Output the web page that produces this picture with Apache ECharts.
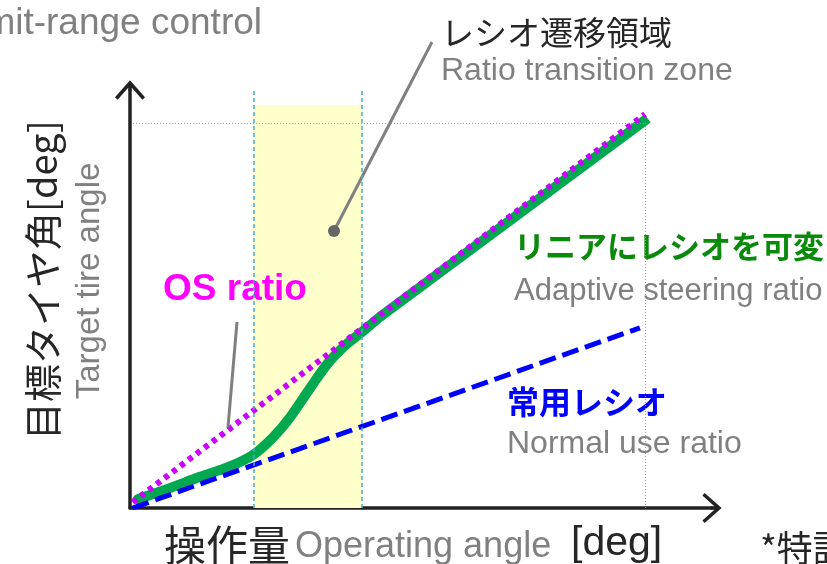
<!DOCTYPE html>
<html>
<head>
<meta charset="utf-8">
<script src="https://cdn.jsdelivr.net/npm/echarts@6/dist/echarts.min.js"></script>
<style>
  html, body { margin: 0; padding: 0; background: #fff; }
  #main { width: 827px; height: 564px; }
</style>
</head>
<body>
<div id="main"></div>
<script>
// 値はすべて図から目測
const zoneRange = [24, 45];          // レシオ遷移領域 (操作量)
const zoneTop = 104.7;
const zoneLineTop = 108.5;
const maxPoint = [100, 100];         // 最大操作量・最大タイヤ角

// 常用レシオ (直線)
const normalRatio = [[0.5, 0], [99, 46.8]];
// OS ratio (直線)
const osRatio = [[0.5, 1.5], [100, 102.3]];
// リニアにレシオを可変: 曲線部分と直線部分
const adaptiveCurve = [
  [1.5, 2.3], [7, 4.8], [13.6, 8.1], [19.4, 10.8], [23.9, 13.8],
  [27.8, 18.4], [31.1, 23.6], [35, 31.2], [38.3, 37.4], [41.4, 41.8],
  [45, 45.7], [48.5, 49.6]
];
const adaptiveLinear = [[48.5, 49.6], [100.5, 101.2]];

const FONT = "'Liberation Sans', 'Noto Sans CJK JP', sans-serif";
const JP = "'Noto Sans CJK JP', 'Liberation Sans', sans-serif";
const GRAY = '#808080';
const DARK = '#262626';
const GREEN = '#00a84f';

// 開いた矢印 (上向き) + 中心までの軸
const ARROW = 'path://M15,0 L30,17 L27.4,19.3 L15,5.3 L2.6,19.3 L0,17 Z M13.25,3 L16.75,3 L16.75,10.5 L13.25,10.5 Z';

const chart = echarts.init(document.getElementById('main'));

function axisCommon(max) {
  return {
    type: 'value',
    min: 0,
    max: max,
    axisLabel: { show: false },
    axisTick: { show: false },
    splitLine: { show: false },
    axisLine: {
      show: true,
      symbol: ['none', ARROW],
      symbolSize: [30, 19.3],
      lineStyle: { color: '#222', width: 3.5 }
    }
  };
}

function text(x, y, str, size, color, opts) {
  return Object.assign({
    type: 'text',
    x: x,
    y: y,
    z: 5,
    style: Object.assign({
      text: str,
      font: (opts && opts.weight ? opts.weight + ' ' : '') + size + 'px ' + (opts && opts.family ? opts.family : FONT),
      fill: color,
      align: 'left',
      verticalAlign: 'middle'
    }, opts && opts.style)
  }, opts && opts.el);
}

const zoneLine = { color: '#4bacc6', width: 1.5, type: [4, 3] };
const guideLine = { color: '#999', width: 1, type: [1, 2] };

const option = {
  animation: false,
  backgroundColor: '#fff',
  grid: { left: 130, top: 90, width: 582, height: 418 },
  xAxis: axisCommon(113),
  yAxis: axisCommon(108.57),
  series: [
    {
      type: 'line',
      data: [],
      clip: false,
      silent: true,
      markArea: {
        silent: true,
        itemStyle: { color: '#ffffcc' },
        data: [[{ coord: [zoneRange[0], 0] }, { coord: [zoneRange[1], zoneTop] }]]
      },
      markLine: {
        silent: true,
        symbol: 'none',
        label: { show: false },
        data: [
          [{ coord: [zoneRange[0], 0], lineStyle: zoneLine }, { coord: [zoneRange[0], zoneLineTop] }],
          [{ coord: [zoneRange[1], 0], lineStyle: zoneLine }, { coord: [zoneRange[1], zoneLineTop] }],
          [{ coord: [0.6, maxPoint[1]], lineStyle: guideLine }, { coord: [maxPoint[0], maxPoint[1]] }],
          [{ coord: [maxPoint[0], maxPoint[1]], lineStyle: guideLine }, { coord: [maxPoint[0], 0] }]
        ]
      }
    },
    {
      name: 'リニアにレシオを可変',
      type: 'line',
      data: adaptiveCurve,
      smooth: 0.3,
      symbol: 'none',
      clip: false,
      lineStyle: { color: GREEN, width: 10, cap: 'round' }
    },
    {
      name: 'リニアにレシオを可変',
      type: 'line',
      data: adaptiveLinear,
      symbol: 'none',
      clip: false,
      lineStyle: { color: GREEN, width: 10, cap: 'butt' }
    },
    {
      name: 'OS ratio',
      type: 'line',
      data: osRatio,
      symbol: 'none',
      clip: false,
      lineStyle: { color: '#cc00ff', width: 6, type: [5, 5], cap: 'butt' }
    },
    {
      name: '常用レシオ',
      type: 'line',
      data: normalRatio,
      symbol: 'none',
      clip: false,
      lineStyle: { color: '#0000ff', width: 5, type: [17, 7], cap: 'butt' }
    }
  ],
  graphic: [
    // 引き出し線
    { type: 'line', z: 4, shape: { x1: 432, y1: 42, x2: 335, y2: 229 }, style: { stroke: GRAY, lineWidth: 3 } },
    { type: 'circle', z: 4, shape: { cx: 334, cy: 231, r: 6 }, style: { fill: '#666' } },
    { type: 'line', z: 4, shape: { x1: 237, y1: 322, x2: 228, y2: 427 }, style: { stroke: GRAY, lineWidth: 3 } },

    text(262, 24, 'Limit-range control', 37, GRAY, { style: { align: 'right' } }),
    text(441, 32, 'レシオ遷移領域', 33, DARK, { family: JP }),
    text(441, 71, 'Ratio transition zone', 32, GRAY),
    text(163, 290, 'OS ratio', 37, '#ff00ff', { weight: 'bold' }),
    text(514, 246, 'リニアにレシオを可変', 31, '#0a8a0a', { weight: 'bold', family: JP }),
    text(514, 291, 'Adaptive steering ratio', 31, GRAY),
    text(507, 402, '常用レシオ', 32, '#0000ff', { weight: 'bold', family: JP }),
    text(507, 444, 'Normal use ratio', 32, GRAY),

    text(43, 280, '目標タイヤ角[deg]', 38, DARK, { family: JP, style: { align: 'center' }, el: { rotation: Math.PI / 2 } }),
    text(90, 281, 'Target tire angle', 33, GRAY, { style: { align: 'center' }, el: { rotation: Math.PI / 2 } }),

    text(164, 545, '操作量', 42, DARK, { family: JP }),
    text(295, 547, 'Operating angle', 36, GRAY),
    text(571, 544, '[deg]', 41, DARK),
    text(760, 548, '*特許出願中', 36, DARK, { family: JP })
  ]
};

chart.setOption(option);
</script>
</body>
</html>
